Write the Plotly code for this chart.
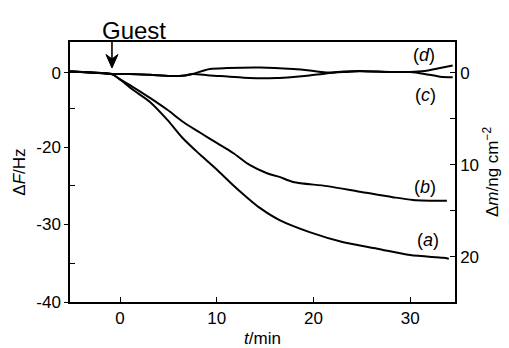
import plotly.graph_objects as go

# ---- data; t in min, Δm in ng cm^-2 (right axis) ----
t_a = [-5.2, -3.0, -0.8, 0.0, 1.3, 3.1, 4.9, 6.5, 8.3, 10.0, 11.7, 13.1, 14.5, 16.5, 19.6, 23.1, 26.6, 30.0, 33.4, 34.0]
m_a = [-0.15, -0.05, 0.15, 0.7, 1.8, 3.15, 5.1, 7.1, 8.9, 10.5, 12.2, 13.5, 14.7, 16.0, 17.3, 18.4, 19.1, 19.8, 20.1, 20.2]

t_b = [-5.2, -3.0, -0.8, 0.0, 1.3, 3.1, 4.9, 6.5, 8.3, 10.0, 11.7, 13.4, 15.2, 16.5, 17.9, 21.4, 24.8, 28.2, 30.3, 33.8]
m_b = [-0.15, -0.05, 0.15, 0.7, 1.5, 2.7, 4.0, 5.3, 6.5, 7.6, 8.7, 10.0, 10.9, 11.3, 11.85, 12.3, 12.9, 13.5, 13.8, 13.9]

t_c = [-5.2, -3.1, -0.8, 1.0, 3.1, 5.2, 6.7, 7.5, 9.3, 11.1, 13.4, 16.2, 17.9, 19.6, 21.3, 23.1, 24.8, 28.2, 30.0, 31.5, 33.1, 34.4]
m_c = [-0.16, -0.05, 0.1, 0.1, 0.2, 0.33, 0.27, 0.1, 0.27, 0.38, 0.54, 0.54, 0.43, 0.27, 0.05, -0.1, -0.2, -0.1, -0.1, 0.1, 0.4, 0.45]

t_d = [-5.2, -3.1, -0.8, 1.0, 3.1, 5.2, 6.7, 7.5, 9.3, 11.1, 14.5, 17.9, 19.6, 21.3, 23.1, 24.8, 28.2, 30.0, 31.5, 33.1, 34.4]
m_d = [-0.16, -0.05, 0.1, 0.1, 0.2, 0.33, 0.27, 0.1, -0.43, -0.54, -0.6, -0.43, -0.27, -0.05, -0.16, -0.22, -0.11, -0.11, -0.22, -0.54, -0.82]

curve_labels = ["a", "b", "c", "d"]
label_t = [31.8, 31.5, 31.6, 31.4]
label_m = [18.15, 12.4, 2.4, -1.96]

guest_t = -0.83  # time of guest injection (arrow)

left_tickvals = [-10.4, -20, -30, -40]
left_ticktext = ["0", "-20", "-30", "-40"]
left_minor = [-15, -25, -35]
right_tickvals = [0, 10, 20]
right_minor = [5, 15]
x_tickvals = [0, 10, 20, 30]

FONT = "Liberation Sans, Arial, Helvetica, sans-serif"
BLACK = "#000000"

fig = go.Figure()
for tt, mm in [(t_a, m_a), (t_b, m_b), (t_c, m_c), (t_d, m_d)]:
    fig.add_trace(go.Scatter(x=tt, y=mm, yaxis="y2", mode="lines",
                             line=dict(color=BLACK, width=2, shape="spline", smoothing=0.8),
                             showlegend=False, hoverinfo="skip"))
# empty trace to anchor the left (ΔF) axis
fig.add_trace(go.Scatter(x=[None], y=[None], yaxis="y", mode="lines", showlegend=False))

for lab, lt, lm in zip(curve_labels, label_t, label_m):
    fig.add_annotation(x=lt, y=lm, xref="x", yref="y2", text=f"(<i>{lab}</i>)",
                       showarrow=False, font=dict(family=FONT, size=18, color=BLACK))

fig.add_annotation(x=guest_t + 2.28, y=1.046, xref="x", yref="paper", text="Guest",
                   yanchor="middle", xanchor="center",
                   showarrow=False, font=dict(family=FONT, size=24, color=BLACK))
# arrow: stem + filled head
fig.add_shape(type="line", xref="x", yref="paper", x0=guest_t, x1=guest_t,
              y0=1.0, y1=0.93, line=dict(color=BLACK, width=1.6))
fig.add_shape(type="path", xref="x", yref="paper",
              path=f"M {guest_t-0.62},0.952 L {guest_t},0.9 L {guest_t+0.62},0.952 "
                   f"L {guest_t},0.935 Z",
              fillcolor=BLACK, line=dict(color=BLACK, width=1))

axis_common = dict(showline=True, linecolor=BLACK, linewidth=1.5, showgrid=False,
                   zeroline=False, automargin=False, tickcolor=BLACK)

fig.update_layout(
    width=509, height=348,
    margin=dict(l=70, r=54, t=42, b=46),
    paper_bgcolor="white", plot_bgcolor="white",
    font=dict(family=FONT, size=17, color=BLACK),
    xaxis=dict(range=[-5.17, 34.64], tickvals=x_tickvals, ticks="inside", ticklen=5,
               mirror=True,
               title=dict(text="<i>t</i>/min", standoff=7, font=dict(size=17)),
               **axis_common),
    yaxis=dict(range=[-40, -6.45], tickvals=left_tickvals, ticktext=left_ticktext,
               ticks="outside", ticklen=4,
               minor=dict(tickmode="array", tickvals=left_minor, ticks="inside",
                          ticklen=5, tickcolor=BLACK, showgrid=False),
               title=dict(text="Δ<i>F</i>/Hz", standoff=6, font=dict(size=17)),
               **axis_common),
    yaxis2=dict(range=[24.9, -3.37], overlaying="y", side="right",
                tickvals=right_tickvals, ticks="inside", ticklen=5,
                minor=dict(tickmode="array", tickvals=right_minor, ticks="inside",
                           ticklen=5, tickcolor=BLACK, showgrid=False),
                title=dict(text="Δ<i>m</i>/ng cm<sup>−2</sup>", standoff=8,
                           font=dict(size=17)),
                **axis_common),
)

fig.write_html("out.html", config={"displayModeBar": False},
               post_script="document.body.style.margin='0';document.body.style.padding='0';")
